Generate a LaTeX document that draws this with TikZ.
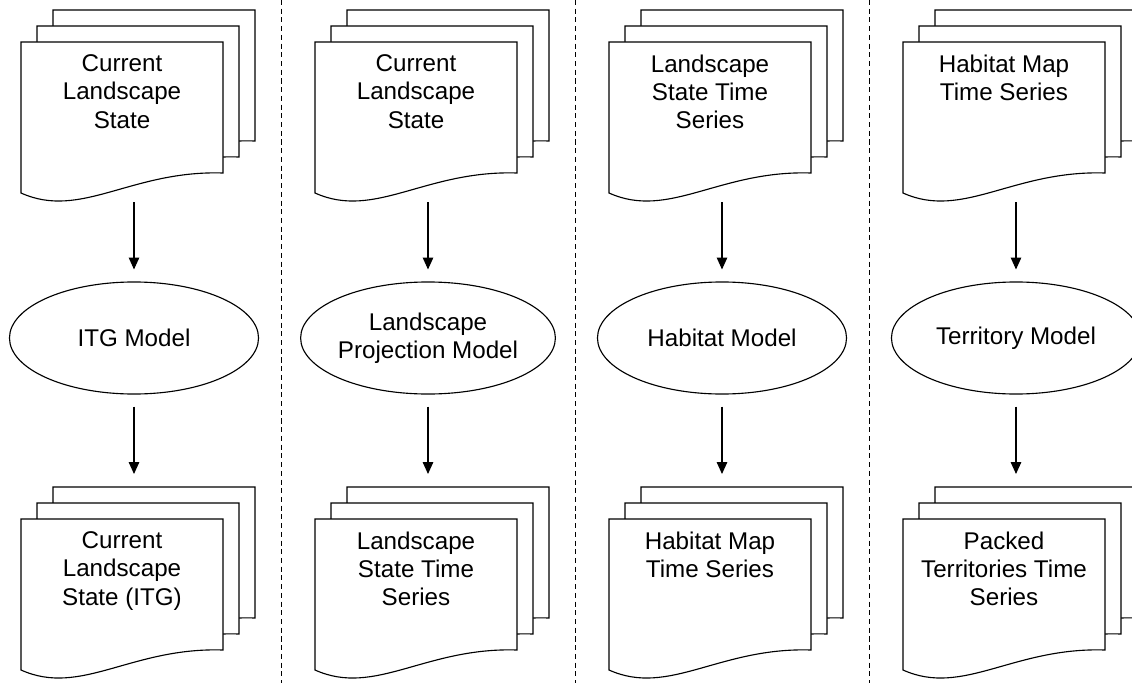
\documentclass[tikz,border=0pt]{standalone}
\usepackage{fontspec}
\setmainfont{Liberation Sans}
\usetikzlibrary{shapes.geometric,arrows.meta}

\def\docw{202}
\def\docoff{16}
\newcommand{\docsheet}[2]{%
  \filldraw[fill=white] ({#1},{#2}) -- ({#1+\docw},{#2}) -- ({#1+\docw},{#2+131})
    .. controls ({#1+110},{#2+128}) and ({#1+60},{#2+178}) .. ({#1},{#2+151}) -- cycle;}
\newcommand{\docstack}[4]{%
  \foreach \k in {2,1,0} {\docsheet{#2+\docoff*\k}{#3-\docoff*\k}}
  \node[doctext] (#1) at ({#2+\docw/2},{#3+12}) {#4};
  \coordinate (#1-top) at ({#2+113},{#3-2*\docoff-13});
  \coordinate (#1-bot) at ({#2+113},{#3+160});}

\begin{document}
\begin{tikzpicture}[x=0.025cm,y=-0.025cm,line width=0.8pt,
  doctext/.style={anchor=north,inner sep=0pt,align=center,font=\fontsize{17.2}{20.2}\selectfont},
  model/.style={draw,ellipse,inner sep=0pt,minimum width=6.225cm,minimum height=2.8cm,
    align=center,font=\fontsize{17.2}{20.2}\selectfont},
  flow/.style={-{Triangle[length=8.5pt,width=7.5pt]}},
  sepline/.style={line width=0.65pt,dash pattern=on 3.6pt off 2.6pt}]
  \useasboundingbox (0,0) rectangle (1132,683);
  \clip (0,0) rectangle (1132,683);
  \foreach \sx in {281,575,869} { \draw[sepline] (\sx,0) -- (\sx,683); }
  \foreach \cx/\tin/\tmod/\tout [count=\n] in {
      21/{Current\\Landscape\\State}/{ITG Model}/{Current\\Landscape\\State (ITG)},
      315/{Current\\Landscape\\State}/{Landscape\\Projection Model}/{Landscape\\State Time\\Series},
      609/{Landscape\\State Time\\Series}/{Habitat Model}/{Habitat Map\\Time Series},
      903/{Habitat Map\\Time Series}/{Territory Model}/{Packed\\Territories Time\\Series}} {
    \docstack{in\n}{\cx}{42}{\tin}
    \node[model] (model\n) at ({\cx+113},338) {\tmod};
    \docstack{out\n}{\cx}{519}{\tout}
    \draw[flow,shorten >=8.5pt] (in\n-bot) -- (model\n);
    \draw[flow,shorten <=8.5pt] (model\n) -- (out\n-top);
  }
\end{tikzpicture}
\end{document}
